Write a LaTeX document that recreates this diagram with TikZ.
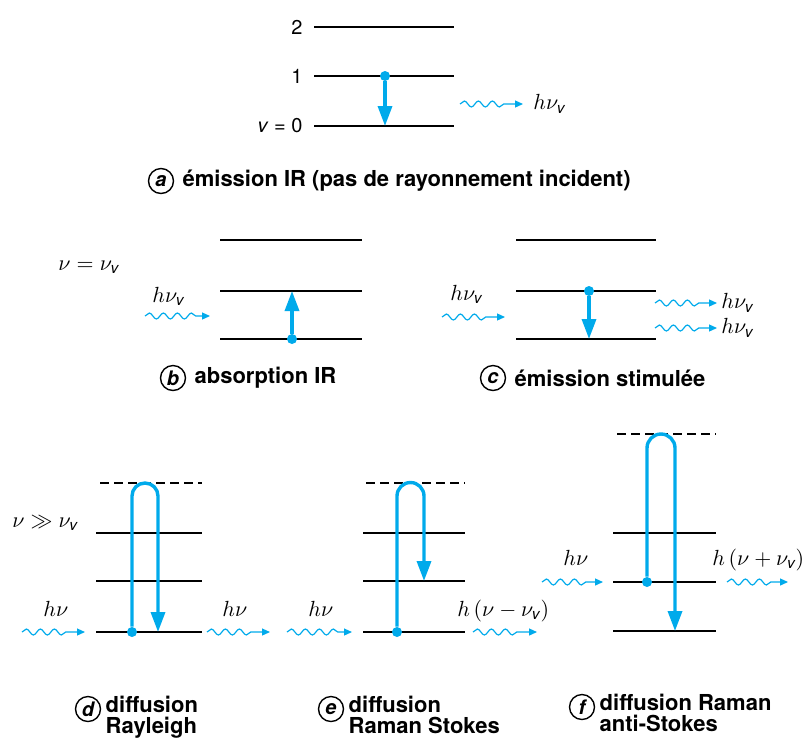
\documentclass[tikz,border=0pt]{standalone}
\usepackage{fontspec}
\setmainfont{TeX Gyre Heros}
\usepackage{amsmath}
\usepackage{amssymb}
\usetikzlibrary{positioning,arrows.meta,decorations.pathmorphing}
\definecolor{irblue}{RGB}{0,170,235}

\begin{document}
\begin{tikzpicture}[x=0.5pt, y=-0.5pt,
	lvl/.style = {line width=0.9pt},
	virt/.style = {line width=0.9pt, dash pattern=on 4.5pt off 2.5pt},
	trans/.style = {draw=irblue, line width=1.7pt, -{Triangle[length=10pt,width=7pt]}},
	dot/.style = {circle, fill=irblue, inner sep=0pt, minimum size=5pt},
	photon/.style = {draw=irblue, line width=0.6pt, -{Triangle[length=4pt,width=3.5pt]}, decorate, decoration={snake, amplitude=1.5pt, segment length=7pt, post length=7pt}},
	lab/.style = {inner sep=0pt, font=\fontsize{11}{13}\selectfont},
	num/.style = {inner sep=0pt, anchor=east, font=\fontsize{10}{12}\selectfont},
	letter/.style = {draw, circle, line width=0.7pt, inner sep=0pt, minimum size=12.5pt, font=\fontsize{10}{10}\selectfont\itshape\bfseries},
	capt/.style = {inner sep=0pt, align=left, font=\fontsize{11}{10.5}\selectfont\bfseries}]
	\useasboundingbox (0,0) rectangle (806,740);

	\draw[lvl] (314,27) -- (454,27);
	\draw[lvl] (314,76) -- (454,76);
	\draw[lvl] (314,126) -- (454,126);
	\node[num] (n2) at (303,27) {2};
	\node[num] (n1) at (303,76) {1};
	\node[num] (n0) at (303,126) {\textit{v} = 0};
	\node[dot] (a1) at (385,76) {};
	\coordinate (a2) at (385,126);
	\draw[trans] (a1) -- (a2);
	\coordinate (a3) at (460,104);
	\coordinate (a4) at (523,104);
	\draw[photon] (a3) -- (a4);
	\node[lab, right=5pt of a4] (ha) {$h\nu_{\textit{v}}$};
	\node[letter] (la) at (161,181) {a};
	\node[capt, right=4pt of la] (ca) {émission IR (pas de rayonnement incident)};

	\draw[lvl] (220,240) -- (362,240);
	\draw[lvl] (220,291) -- (362,291);
	\draw[lvl] (220,339) -- (362,339);
	\node[lab, anchor=base west] (nb) at (58,270) {$\nu = \nu_{\textit{v}}$};
	\coordinate (b1) at (145,316);
	\coordinate (b2) at (210,316);
	\draw[photon] (b1) -- (b2);
	\node[lab, anchor=base west] (hb) at (152,302) {$h\nu_{\textit{v}}$};
	\node[dot] (b3) at (292,339) {};
	\coordinate (b4) at (292,291);
	\draw[trans] (b3) -- (b4);
	\node[letter] (lb) at (173,378) {b};
	\node[capt, right=4pt of lb] (cb) {absorption IR};

	\draw[lvl] (516,240) -- (656,240);
	\draw[lvl] (516,291) -- (656,291);
	\draw[lvl] (516,339) -- (656,339);
	\coordinate (c1) at (442,317);
	\coordinate (c2) at (505,317);
	\draw[photon] (c1) -- (c2);
	\node[lab, anchor=base west] (hc) at (450,300) {$h\nu_{\textit{v}}$};
	\node[dot] (c3) at (589,291) {};
	\coordinate (c4) at (589,339);
	\draw[trans] (c3) -- (c4);
	\coordinate (c5) at (655,303);
	\coordinate (c6) at (717,303);
	\draw[photon] (c5) -- (c6);
	\node[lab, right=2pt of c6] (hc1) {$h\nu_{\textit{v}}$};
	\coordinate (c7) at (655,328);
	\coordinate (c8) at (717,328);
	\draw[photon] (c7) -- (c8);
	\node[lab, right=2pt of c8] (hc2) {$h\nu_{\textit{v}}$};
	\node[letter] (lc) at (493,378) {c};
	\node[capt, right=4pt of lc] (cc) {émission stimulée};

	\draw[virt] (100,483) -- (202,483);
	\draw[lvl] (96,533) -- (202,533);
	\draw[lvl] (96,581) -- (202,581);
	\draw[lvl] (96,632) -- (202,632);
	\node[lab, anchor=base west] (nd) at (12,527) {$\nu \gg \nu_{\textit{v}}$};
	\coordinate (d1) at (22,632);
	\coordinate (d2) at (85,632);
	\draw[photon] (d1) -- (d2);
	\node[lab, anchor=base west] (hd1) at (43,616) {$h\nu$};
	\node[dot] (d3) at (132,632) {};
	\coordinate (d4) at (158,632);
	\draw[trans] (d3) -- ++(0,-136) arc[start angle=180, end angle=0, radius=6.5pt] -- (d4);
	\coordinate (d5) at (207,632);
	\coordinate (d6) at (270,632);
	\draw[photon] (d5) -- (d6);
	\node[lab, anchor=base west] (hd2) at (222,616) {$h\nu$};
	\node[letter] (ld) at (88,709) {d};
	\node[capt, right=4pt of ld.north east, anchor=north west, yshift=2pt] (cd) {diffusion\\Rayleigh};

	\draw[virt] (366,483) -- (465,483);
	\draw[lvl] (363,533) -- (465,533);
	\draw[lvl] (363,581) -- (465,581);
	\draw[lvl] (363,632) -- (465,632);
	\coordinate (e1) at (287,632);
	\coordinate (e2) at (352,632);
	\draw[photon] (e1) -- (e2);
	\node[lab, anchor=base west] (he1) at (308,616) {$h\nu$};
	\node[dot] (e3) at (397,632) {};
	\coordinate (e4) at (424,581);
	\draw[trans] (e3) -- ++(0,-136) arc[start angle=180, end angle=0, radius=6.75pt] -- (e4);
	\coordinate (e5) at (473,632);
	\coordinate (e6) at (537,632);
	\draw[photon] (e5) -- (e6);
	\node[lab, anchor=base west] (he2) at (457,616) {$h\,(\nu - \nu_{\textit{v}})$};
	\node[letter] (le) at (331,709) {e};
	\node[capt, right=4pt of le.north east, anchor=north west, yshift=2pt] (ce) {diffusion\\Raman Stokes};

	\draw[virt] (617,434) -- (716,434);
	\draw[lvl] (613,533) -- (716,533);
	\draw[lvl] (613,582) -- (716,582);
	\draw[lvl] (613,631) -- (716,631);
	\coordinate (f1) at (542,582);
	\coordinate (f2) at (603,582);
	\draw[photon] (f1) -- (f2);
	\node[lab, anchor=base west] (hf1) at (563,565) {$h\nu$};
	\node[dot] (f3) at (647,582) {};
	\coordinate (f4) at (675,631);
	\draw[trans] (f3) -- ++(0,-134) arc[start angle=180, end angle=0, radius=7pt] -- (f4);
	\coordinate (f5) at (727,582);
	\coordinate (f6) at (788,582);
	\draw[photon] (f5) -- (f6);
	\node[lab, anchor=base west] (hf2) at (712,565) {$h\,(\nu + \nu_{\textit{v}})$};
	\node[letter] (lf) at (582,707) {f};
	\node[capt, right=4pt of lf.north east, anchor=north west, yshift=2pt] (cf) {diffusion Raman\\anti-Stokes};
\end{tikzpicture}
\end{document}
